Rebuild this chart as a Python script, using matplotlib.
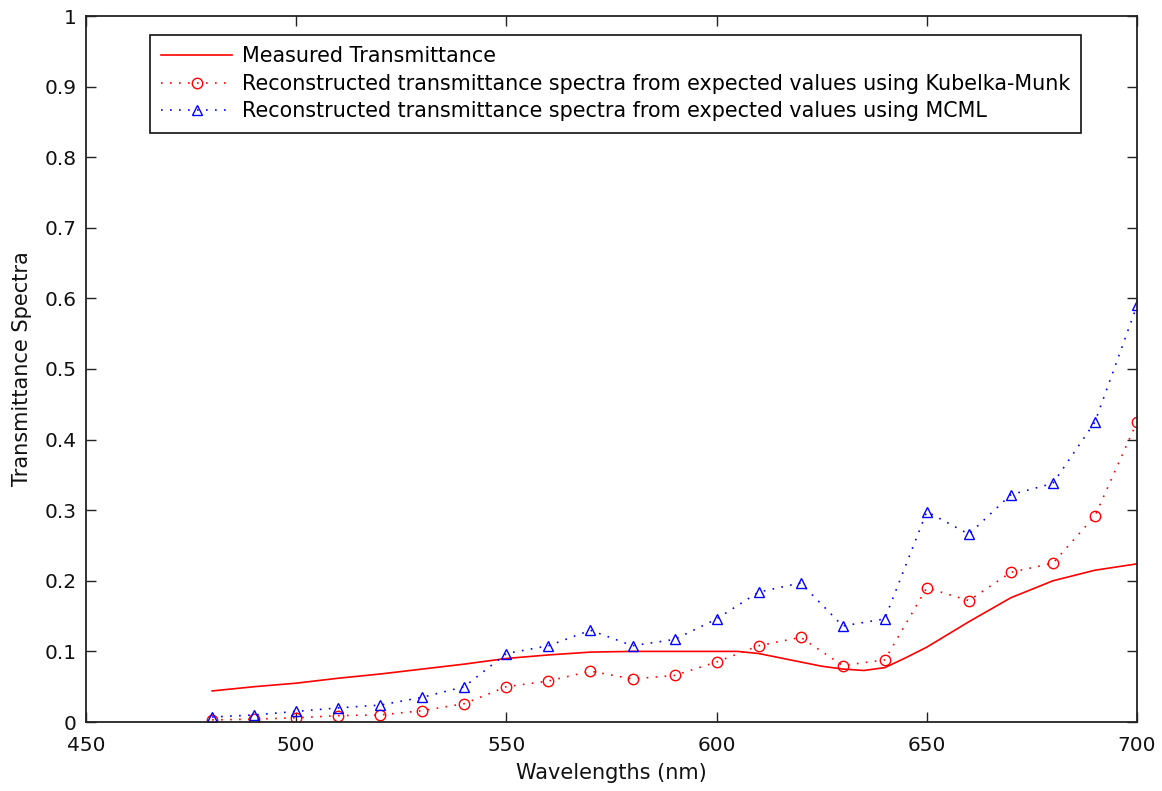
import matplotlib
matplotlib.use("Agg")
import matplotlib.pyplot as plt
import numpy as np

plt.rcParams['font.family'] = ['DejaVu Sans']

wl = [480, 490, 500, 510, 520, 530, 540, 550, 560, 570, 580, 590, 600,
      610, 620, 630, 640, 650, 660, 670, 680, 690, 700]
km = [0.003, 0.004, 0.006, 0.009, 0.010, 0.016, 0.026, 0.050, 0.058, 0.072,
      0.061, 0.066, 0.085, 0.108, 0.120, 0.080, 0.088, 0.190, 0.172, 0.212,
      0.225, 0.292, 0.425]
mcml = [0.007, 0.010, 0.015, 0.020, 0.024, 0.035, 0.050, 0.097, 0.108, 0.130,
        0.108, 0.117, 0.146, 0.184, 0.197, 0.136, 0.146, 0.298, 0.266, 0.322,
        0.338, 0.425, 0.590]
meas_wl = [480, 490, 500, 510, 520, 530, 540, 550, 560, 570, 580, 590, 600,
           605, 610, 615, 620, 625, 630, 635, 640, 645, 650, 655, 660, 670,
           680, 690, 700]
meas = [0.044, 0.050, 0.055, 0.062, 0.068, 0.075, 0.082, 0.090, 0.095, 0.099,
        0.100, 0.100, 0.100, 0.100, 0.097, 0.091, 0.085, 0.079, 0.075, 0.073,
        0.077, 0.091, 0.106, 0.124, 0.142, 0.176, 0.200, 0.215, 0.224]

labels = ["Measured Transmittance",
          "Reconstructed transmittance spectra from expected values using Kubelka-Munk",
          "Reconstructed transmittance spectra from expected values using MCML"]
yticklabels = ['0', '0.1', '0.2', '0.3', '0.4', '0.5', '0.6', '0.7', '0.8', '0.9', '1']

fig = plt.figure(figsize=(11.62, 7.91), dpi=100)
ax = fig.add_axes([86 / 1162, 1 - 722 / 791, 1051 / 1162, 706 / 791])

ax.plot(meas_wl, meas, '-', color='red', lw=1.2, label=labels[0])
ax.plot(wl, km, color='red', lw=1.2, dashes=(1, 4.4), marker='o', ms=7.5,
        mfc='none', mec='red', mew=1.0, label=labels[1])
ax.plot(wl, mcml, color='blue', lw=1.2, dashes=(1, 4.4), marker='^', ms=7,
        mfc='none', mec='blue', mew=1.0, label=labels[2])

ax.set_xlim(450, 700)
ax.set_ylim(0, 1)
ax.set_xticks(np.arange(450, 701, 50))
ax.set_yticks(np.arange(0, 1.01, 0.1))
ax.set_yticklabels(yticklabels)
ax.tick_params(direction='in', top=True, right=True, length=7.5, labelsize=14.5,
               width=1, color='#222222', labelcolor='#111111')
ax.tick_params(axis='x', pad=10)
ax.tick_params(axis='y', pad=6.5)
for s in ax.spines.values():
    s.set_linewidth(1.3)
    s.set_color('#222222')
ax.set_xlabel('Wavelengths (nm)', fontsize=15, color='#111111')
ax.set_ylabel('Transmittance Spectra', fontsize=15, color='#111111')
ax.xaxis.set_label_coords(0.5, (722 - 763) / 706)
ax.yaxis.set_label_coords((32 - 86) / 1051, 0.5)

leg = ax.legend(loc='upper left', bbox_to_anchor=((150 - 86) / 1051, (722 - 35) / 706),
                borderaxespad=0, fontsize=14.9, fancybox=False, edgecolor='#111111',
                framealpha=1, handlelength=3.4, labelspacing=0.36, borderpad=0.55,
                handletextpad=0.48)
leg.get_frame().set_linewidth(1.2)

fig.savefig('out.png', dpi=100)
